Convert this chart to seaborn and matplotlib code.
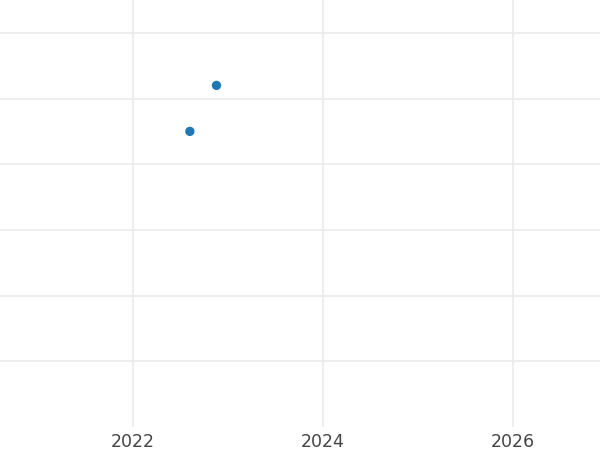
import matplotlib
import matplotlib.pyplot as plt
import pandas as pd
import seaborn as sns

matplotlib.use("Agg")

# --- DATA ---
years = [2022.6, 2022.88]
values = [4.5, 5.2]
x_ticks = [2022, 2024, 2026]
y_ticks = [1, 2, 3, 4, 5, 6]

df = pd.DataFrame({"year": years, "value": values})

sns.set_theme(style="white")
fig = plt.figure(figsize=(6, 4.5), dpi=100)
ax = fig.add_axes([0, 1 - 427 / 450, 1, 427 / 450])

sns.scatterplot(data=df, x="year", y="value", ax=ax, color="#1f77b4",
                s=45, edgecolor="none", zorder=3)

ax.set_xlim(2020.6, 2026.92)
ax.set_ylim(0, 6.5)
ax.set_xticks(x_ticks)
ax.set_xticklabels([str(t) for t in x_ticks])
ax.set_yticks(y_ticks)
ax.set_yticklabels([])
ax.grid(True, color="#ebebeb", linewidth=1.2)
ax.tick_params(axis="x", length=0, labelsize=12.5, labelcolor="#444444", pad=4)
ax.tick_params(axis="y", length=0)
ax.set_xlabel("")
ax.set_ylabel("")
for s in ax.spines.values():
    s.set_visible(False)

fig.savefig("out.png", dpi=100)
plt.close(fig)
